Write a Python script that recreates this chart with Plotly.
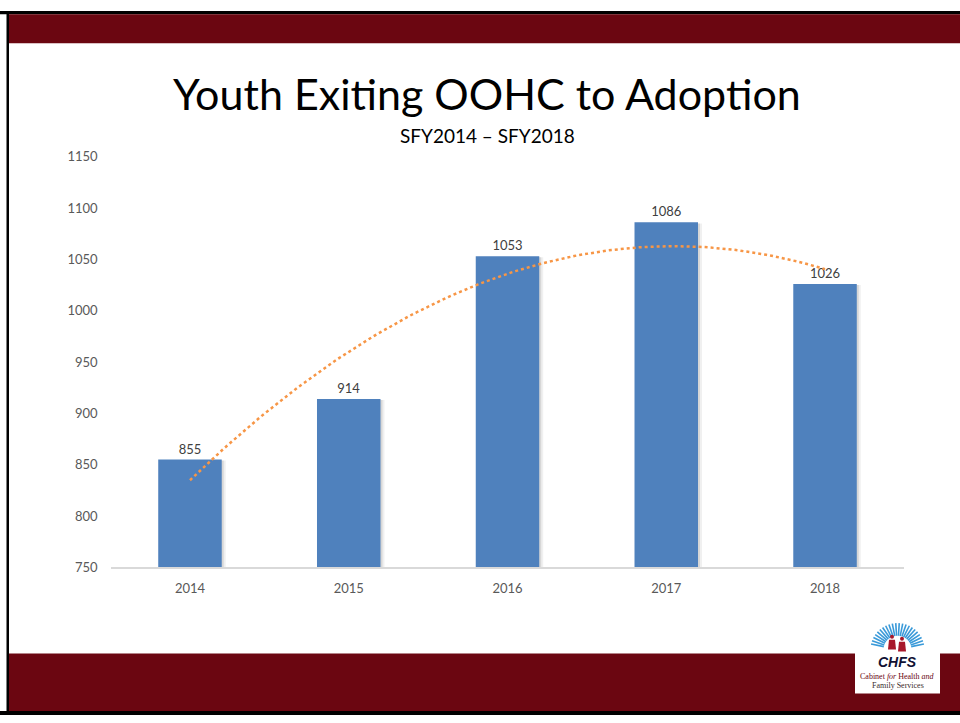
import numpy as np
import plotly.graph_objects as go

# ---- data ----
years = [2014, 2015, 2016, 2017, 2018]
adoptions = [855, 914, 1053, 1086, 1026]
year_labels = ["2014", "2015", "2016", "2017", "2018"]
y_ticks = [750, 800, 850, 900, 950, 1000, 1050, 1100, 1150]

title_text = "Youth Exiting OOHC to Adoption"
subtitle_text = "SFY2014 \u2013 SFY2018"

W, H = 960, 723
def px(x):
    return x / W
def py(y):
    return 1 - y / H

BLUE = "#4F81BD"
ORANGE = "#F79646"
MAROON = "#6B0611"
FONT = "Lato, 'Open Sans', sans-serif"

# polynomial (order 2) trendline fitted to the data, as in the source chart
coef = np.polyfit(np.array(years, dtype=float), np.array(adoptions, dtype=float), 2)
trend_x = np.linspace(years[0], years[-1], 120)
trend_y = np.polyval(coef, trend_x)

fig = go.Figure()

# subtle shadow behind bars
for dx, alpha in [(2, 0.10), (4, 0.06)]:
    fig.add_trace(go.Bar(
        x=years, y=[v - 700 - 1.0 for v in adoptions], base=[700] * len(years),
        width=0.4, offset=-0.2 + dx / 158.75,
        marker=dict(color="rgba(0,0,0,%s)" % alpha, line=dict(width=0)),
        hoverinfo="skip", showlegend=False,
    ))

fig.add_trace(go.Bar(
    x=years, y=adoptions, width=0.4, offset=-0.2,
    marker=dict(color=BLUE, line=dict(width=0)),
    text=[str(v) for v in adoptions], textposition="outside",
    textfont=dict(family=FONT, size=13, color="#404040"),
    cliponaxis=False, showlegend=False,
))

fig.add_trace(go.Scatter(
    x=trend_x, y=trend_y, mode="lines",
    line=dict(color=ORANGE, width=2.5, dash="dot"),
    showlegend=False, hoverinfo="skip",
))

shapes = []
# top band and border
shapes.append(dict(type="rect", xref="paper", yref="paper", x0=px(0), x1=px(960), y0=py(3), y1=py(6.5),
                   fillcolor="#000000", line=dict(width=0), layer="above"))
shapes.append(dict(type="rect", xref="paper", yref="paper", x0=px(9), x1=px(960), y0=py(6.5), y1=py(36),
                   fillcolor=MAROON, line=dict(width=0), layer="above"))
shapes.append(dict(type="rect", xref="paper", yref="paper", x0=px(9), x1=px(960), y0=py(660), y1=py(719),
                   fillcolor=MAROON, line=dict(width=0), layer="above"))
shapes.append(dict(type="rect", xref="paper", yref="paper", x0=px(0), x1=px(960), y0=py(719), y1=py(723),
                   fillcolor="#000000", line=dict(width=0), layer="above"))
shapes.append(dict(type="rect", xref="paper", yref="paper", x0=px(6.5), x1=px(9), y0=py(3), y1=py(722),
                   fillcolor="#000000", line=dict(width=0), layer="above"))

# logo white box
shapes.append(dict(type="rect", xref="paper", yref="paper", x0=px(855), x1=px(940), y0=py(652), y1=py(701),
                   fillcolor="#FFFFFF", line=dict(width=0), layer="above"))
# sun rays
cx, cy = 897.5, 656
for ang in np.linspace(12, 168, 22):
    a = np.deg2rad(ang)
    r0, r1 = 14, 27
    shapes.append(dict(type="line", xref="paper", yref="paper",
                       x0=px(cx + r0 * np.cos(a)), y0=py(cy - r0 * np.sin(a)),
                       x1=px(cx + r1 * np.cos(a)), y1=py(cy - r1 * np.sin(a)),
                       line=dict(color="#3A9AD9", width=1.6), layer="above"))
# two little figures
for fx, hy in [(892, 643), (902, 645)]:
    shapes.append(dict(type="circle", xref="paper", yref="paper",
                       x0=px(fx - 2), x1=px(fx + 2), y0=py(hy + 2), y1=py(hy - 2),
                       fillcolor="#A8182B", line=dict(width=0), layer="above"))
    path = "M {} {} L {} {} L {} {} L {} {} Z".format(
        px(fx - 3), py(hy + 3), px(fx + 3), py(hy + 3), px(fx + 4), py(hy + 13), px(fx - 4), py(hy + 13))
    shapes.append(dict(type="path", xref="paper", yref="paper", path=path,
                       fillcolor="#A8182B", line=dict(width=0), layer="above"))

annotations = [
    dict(text=title_text, x=px(487), y=py(87), xref="paper", yref="paper", showarrow=False,
         font=dict(family=FONT, size=43, color="#000000"), xanchor="center", yanchor="middle"),
    dict(text=subtitle_text, x=px(487), y=py(130), xref="paper", yref="paper", showarrow=False,
         font=dict(family=FONT, size=19, color="#000000"), xanchor="center", yanchor="middle"),
    dict(text="<b><i>CHFS</i></b>", x=px(897.5), y=py(669), xref="paper", yref="paper", showarrow=False,
         font=dict(family="Liberation Sans, Arial, sans-serif", size=14, color="#111133"),
         xanchor="center", yanchor="middle"),
    dict(text="Cabinet <i>for</i> Health <i>and</i>", x=px(897.5), y=py(684), xref="paper", yref="paper",
         showarrow=False, font=dict(family="Liberation Serif, serif", size=8, color="#6B0611"),
         xanchor="center", yanchor="middle"),
    dict(text="Family Services", x=px(897.5), y=py(693), xref="paper", yref="paper",
         showarrow=False, font=dict(family="Liberation Serif, serif", size=8, color="#3A2A2A"),
         xanchor="center", yanchor="middle"),
]

fig.update_layout(
    width=W, height=H,
    margin=dict(l=0, r=0, t=0, b=0),
    paper_bgcolor="#FFFFFF", plot_bgcolor="rgba(0,0,0,0)",
    barmode="overlay", showlegend=False,
    shapes=shapes, annotations=annotations,
    xaxis=dict(domain=[px(110.6), px(904.4)], range=[2013.5, 2018.5],
               tickvals=years, ticktext=year_labels, showgrid=False, zeroline=False,
               showline=True, linecolor="#D9D9D9", linewidth=1.5, ticks="",
               tickfont=dict(family=FONT, size=13, color="#595959"), ticklabelstandoff=8),
    yaxis=dict(domain=[py(572), py(152)], range=[750, 1150], tickvals=y_ticks,
               showgrid=False, zeroline=False, showline=False, ticks="",
               tickfont=dict(family=FONT, size=13, color="#595959"), ticklabelstandoff=12),
)

fig.write_html("out.html")
